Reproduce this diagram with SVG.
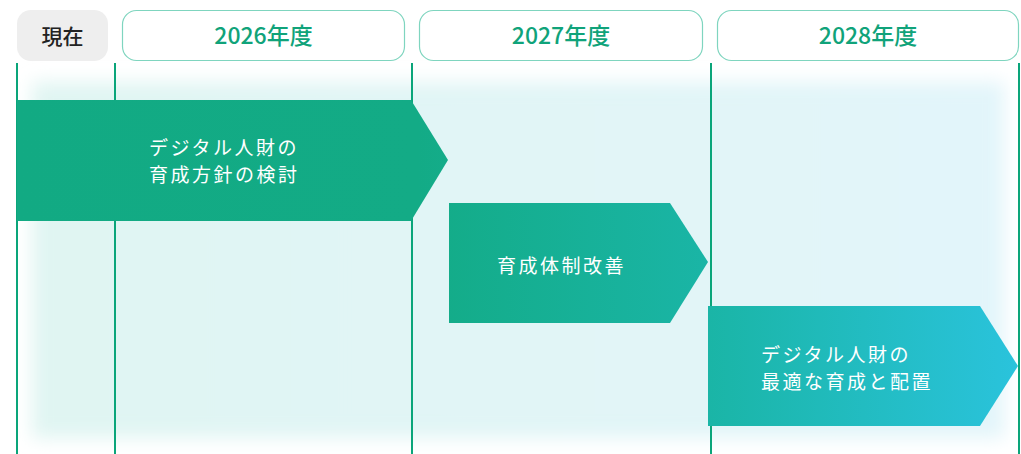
<svg xmlns="http://www.w3.org/2000/svg" width="1021" height="454" viewBox="0 0 1021 454">
<style>
.hdr{fill:#fff;stroke:#7fd5bf;stroke-width:1.2}
.yr{font-family:"Noto Sans CJK JP","Noto Sans",sans-serif;font-size:23px;fill:#10a37a;text-anchor:middle;font-weight:500}
.now{font-family:"Noto Sans CJK JP","Noto Sans",sans-serif;font-size:21px;fill:#222;text-anchor:middle;font-weight:500}
.vl{stroke:#0aa57a;stroke-width:2}
.lbl{font-family:"Noto Sans CJK JP","Noto Sans",sans-serif;font-size:19px;fill:#fff;letter-spacing:2.5px;font-weight:400}
</style>
<defs>
<linearGradient id="bg" x1="0" y1="0" x2="1" y2="0">
<stop offset="0" stop-color="#e0f5f2"/>
<stop offset="1" stop-color="#e2f5fa"/>
</linearGradient>
<linearGradient id="ag" gradientUnits="userSpaceOnUse" x1="17" y1="0" x2="1018" y2="0">
<stop offset="0" stop-color="#12aa83"/>
<stop offset="0.4" stop-color="#13ab86"/>
<stop offset="0.69" stop-color="#1ab5a6"/>
<stop offset="1" stop-color="#2ac3dc"/>
</linearGradient>
<filter id="blur" x="-0.1" y="-0.1" width="1.2" height="1.2">
<feGaussianBlur stdDeviation="9"/>
</filter>
</defs>
<rect width="1021" height="454" fill="#fff"/>
<rect x="32" y="82" width="972" height="356" fill="url(#bg)" filter="url(#blur)"/>
<g id="connectors">
<line class="vl" x1="17" y1="63" x2="17" y2="454"/>
<line class="vl" x1="115" y1="63" x2="115" y2="454"/>
<line class="vl" x1="412" y1="63" x2="412" y2="454"/>
<line class="vl" x1="711" y1="63" x2="711" y2="454"/>
<line class="vl" x1="1019" y1="63" x2="1019" y2="454"/>
</g>
<g id="now">
<rect x="17" y="10" width="91" height="51" rx="14" fill="#eeeeee"/>
<text class="now" x="62.5" y="44">現在</text>
</g>
<g id="y2026">
<rect class="hdr" x="122.5" y="10.5" width="282" height="50" rx="14"/>
<text class="yr" x="263.5" y="44">2026年度</text>
</g>
<g id="y2027">
<rect class="hdr" x="419.5" y="10.5" width="283" height="50" rx="14"/>
<text class="yr" x="561" y="44">2027年度</text>
</g>
<g id="y2028">
<rect class="hdr" x="717.5" y="10.5" width="301" height="50" rx="14"/>
<text class="yr" x="868" y="44">2028年度</text>
</g>
<g id="arrow1">
<polygon points="17,100 411,100 448,160 411,221 17,221" fill="url(#ag)"/>
<text class="lbl" x="149" y="155">デジタル人財の</text>
<text class="lbl" x="149" y="182">育成方針の検討</text>
</g>
<g id="arrow2">
<polygon points="449,203 670,203 708,262 670,323 449,323" fill="url(#ag)"/>
<text class="lbl" x="497" y="273">育成体制改善</text>
</g>
<g id="arrow3">
<polygon points="708,306 980,306 1018,366 980,426 708,426" fill="url(#ag)"/>
<text class="lbl" x="761" y="362">デジタル人財の</text>
<text class="lbl" x="761" y="389">最適な育成と配置</text>
</g>
</svg>
